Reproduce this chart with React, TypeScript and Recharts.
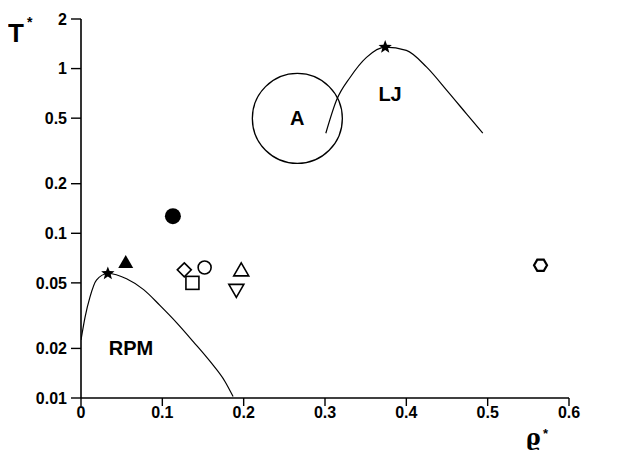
import {
  ComposedChart,
  Line,
  Scatter,
  XAxis,
  YAxis,
} from 'recharts'

// RPM coexistence curve (rho*, T*)
const rpmRho = [0.0, 0.005, 0.011, 0.019, 0.033, 0.056, 0.077, 0.097, 0.118, 0.138, 0.159, 0.177, 0.187]
const rpmT = [0.0225, 0.031, 0.041, 0.052, 0.057, 0.053, 0.0455, 0.0365, 0.0285, 0.022, 0.0166, 0.0126, 0.0102]

// LJ coexistence curve
const ljRho = [0.301, 0.314, 0.331, 0.351, 0.374, 0.4, 0.425, 0.45, 0.474, 0.494]
const ljT = [0.405, 0.64, 0.886, 1.17, 1.35, 1.29, 1.02, 0.735, 0.531, 0.405]

// critical points (stars)
const critRho = [0.033, 0.374]
const critT = [0.057, 1.35]

// estimates from various authors
const markerKinds = ['filledCircle', 'filledTriangle', 'diamond', 'circle', 'square', 'triangleUp', 'triangleDown', 'hexagon']
const markerRho = [0.113, 0.055, 0.127, 0.152, 0.137, 0.197, 0.191, 0.565]
const markerT = [0.127, 0.067, 0.06, 0.062, 0.05, 0.06, 0.045, 0.064]

// text labels in data space
const labelTexts = ['RPM', 'LJ']
const labelRho = [0.0615, 0.38]
const labelT = [0.0201, 0.7]

// region A
const regionRho = [0.266]
const regionT = [0.498]

const xTicks = [0, 0.1, 0.2, 0.3, 0.4, 0.5, 0.6]
const yTicks = [0.01, 0.02, 0.05, 0.1, 0.2, 0.5, 1, 2]

const FONT = '"Liberation Sans", Arial, Helvetica, sans-serif'

const toPoints = (xs: number[], ys: number[]) => xs.map((x, i) => ({ x, y: ys[i] }))

const rpmData = toPoints(rpmRho, rpmT)
const ljData = toPoints(ljRho, ljT)
const critData = toPoints(critRho, critT)
const regionData = toPoints(regionRho, regionT)

function starPath(cx: number, cy: number, R: number, r: number) {
  let d = ''
  for (let i = 0; i < 10; i++) {
    const rad = i % 2 === 0 ? R : r
    const a = -Math.PI / 2 + (i * Math.PI) / 5
    d += (i === 0 ? 'M' : 'L') + (cx + rad * Math.cos(a)).toFixed(2) + ',' + (cy + rad * Math.sin(a)).toFixed(2)
  }
  return d + 'Z'
}

function Marker({ cx, cy, kind }: { cx: number; cy: number; kind: string }) {
  const s = { stroke: '#000', strokeWidth: 1.6, fill: '#fff' }
  switch (kind) {
    case 'filledCircle':
      return <circle cx={cx} cy={cy} r={8} fill="#000" />
    case 'filledTriangle':
      return <path d={`M${cx},${cy - 7} L${cx + 7.5},${cy + 6} L${cx - 7.5},${cy + 6} Z`} fill="#000" />
    case 'diamond':
      return <path d={`M${cx},${cy - 7} L${cx + 7},${cy} L${cx},${cy + 7} L${cx - 7},${cy} Z`} {...s} />
    case 'circle':
      return <circle cx={cx} cy={cy} r={6.5} {...s} />
    case 'square':
      return <rect x={cx - 6.5} y={cy - 6.5} width={13} height={13} {...s} />
    case 'triangleUp':
      return <path d={`M${cx},${cy - 7} L${cx + 7.5},${cy + 6} L${cx - 7.5},${cy + 6} Z`} {...s} />
    case 'triangleDown':
      return <path d={`M${cx},${cy + 7} L${cx + 7.5},${cy - 6} L${cx - 7.5},${cy - 6} Z`} {...s} />
    case 'hexagon': {
      let d = ''
      for (let i = 0; i < 6; i++) {
        const a = (i * Math.PI) / 3
        d += (i === 0 ? 'M' : 'L') + (cx + 6.5 * Math.cos(a)).toFixed(2) + ',' + (cy + 6.5 * Math.sin(a)).toFixed(2)
      }
      return <path d={d + 'Z'} stroke="#000" strokeWidth={2.2} fill="#fff" />
    }
    default:
      return null
  }
}

export default function App() {
  return (
    <div style={{ position: 'relative', width: 600, height: 446, background: '#fff' }}>
      <ComposedChart
        width={600}
        height={446}
        margin={{ top: 11, right: 39, left: 13, bottom: 26 }}
      >
        <XAxis
          dataKey="x"
          type="number"
          domain={[0, 0.6]}
          ticks={xTicks}
          allowDataOverflow
          tickFormatter={(v) => (v === 0 ? '0' : (v as number).toFixed(1))}
          tick={{ fill: '#000', fontSize: 16, fontWeight: 'bold', fontFamily: FONT }}
          axisLine={{ stroke: '#000', strokeWidth: 1.6 }}
          tickLine={{ stroke: '#000', strokeWidth: 1.4 }}
          tickSize={8}
          tickMargin={1}
          height={30}
        />
        <YAxis
          dataKey="y"
          type="number"
          scale="log"
          domain={[0.01, 2]}
          ticks={yTicks}
          allowDataOverflow
          tickFormatter={(v) => String(v)}
          tick={{ fill: '#000', fontSize: 16, fontWeight: 'bold', fontFamily: FONT }}
          axisLine={{ stroke: '#000', strokeWidth: 1.6 }}
          tickLine={{ stroke: '#000', strokeWidth: 1.4 }}
          tickSize={10}
          tickMargin={4}
          width={60}
        />
        <Line
          data={rpmData}
          dataKey="y"
          type="monotone"
          stroke="#000"
          strokeWidth={1.2}
          dot={false}
          isAnimationActive={false}
        />
        <Line
          data={ljData}
          dataKey="y"
          type="monotone"
          stroke="#000"
          strokeWidth={1.2}
          dot={false}
          isAnimationActive={false}
        />
        <Scatter
          data={regionData}
          dataKey="y"
          isAnimationActive={false}
          shape={(p: any) => (
            <g>
              <circle cx={p.cx} cy={p.cy} r={45} fill="none" stroke="#000" strokeWidth={1.3} />
              <text x={p.cx} y={p.cy + 7} textAnchor="middle" fontSize={20} fontWeight="bold" fontFamily={FONT}>A</text>
            </g>
          )}
        />
        {labelTexts.map((t, i) => (
          <Scatter
            key={t}
            data={[{ x: labelRho[i], y: labelT[i] }]}
            dataKey="y"
            isAnimationActive={false}
            shape={(p: any) => (
              <text x={p.cx} y={p.cy + 7} textAnchor="middle" fontSize={20} fontWeight="bold" fontFamily={FONT}>{t}</text>
            )}
          />
        ))}
        {markerKinds.map((k, i) => (
          <Scatter
            key={k}
            data={[{ x: markerRho[i], y: markerT[i] }]}
            dataKey="y"
            isAnimationActive={false}
            shape={(p: any) => <Marker cx={p.cx} cy={p.cy} kind={k} />}
          />
        ))}
        <Scatter
          data={critData}
          dataKey="y"
          isAnimationActive={false}
          shape={(p: any) => <path d={starPath(p.cx, p.cy, 7, 3)} fill="#000" />}
        />
      </ComposedChart>
      <svg
        width={600}
        height={446}
        style={{ position: 'absolute', left: 0, top: 0, pointerEvents: 'none' }}
      >
        <text x={0} y={34} fontSize={26} fontWeight="bold" fontFamily={FONT}>T</text>
        <text x={19} y={19} fontSize={14} fontWeight="bold" fontFamily={FONT}>*</text>
        <text x={518} y={437} fontSize={22} fontWeight="bold" fontFamily="'DejaVu Serif', serif">ϱ</text>
        <text x={535} y={430} fontSize={13} fontWeight="bold" fontFamily={FONT}>*</text>
      </svg>
    </div>
  )
}
